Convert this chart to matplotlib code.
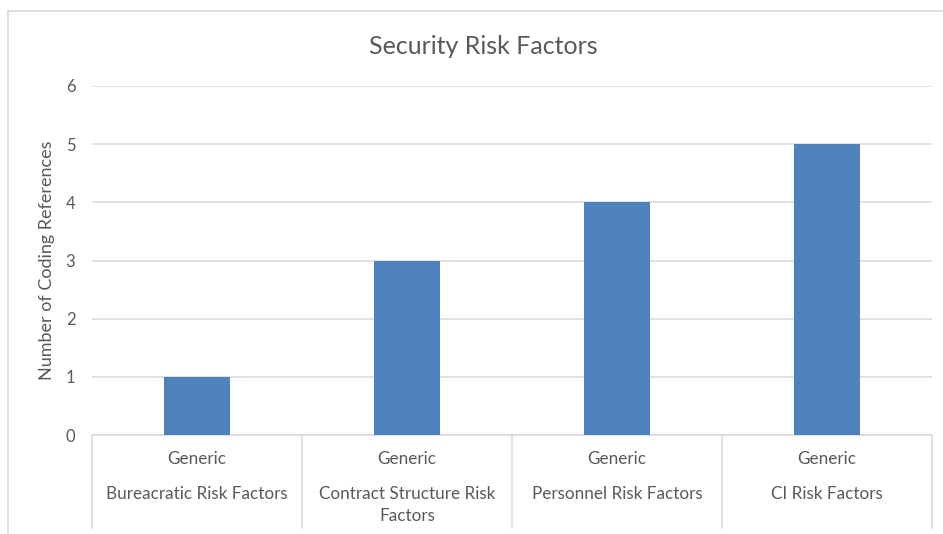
import matplotlib.pyplot as plt
from matplotlib.patches import Rectangle
from matplotlib.transforms import blended_transform_factory

# Data
groups = ["Generic", "Generic", "Generic", "Generic"]
categories = ["Bureacratic Risk Factors", "Contract Structure Risk\nFactors",
              "Personnel Risk Factors", "CI Risk Factors"]
values = [1, 3, 4, 5]

plt.rcParams['font.family'] = ['Lato', 'DejaVu Sans']
text_col = "#595959"
grid_col = "#D9D9D9"

W, H = 943, 534
fig = plt.figure(figsize=(W / 100, H / 100), dpi=100)

# outer chart frame
fig.patches.append(Rectangle((8 / W, -0.01), 1.0, 1 - 11 / H + 0.01,
                             transform=fig.transFigure, fill=False,
                             edgecolor=grid_col, linewidth=1.2))

ax = fig.add_axes([92 / W, 1 - 435 / H, (932 - 92) / W, (435 - 86) / H])
x = list(range(len(values)))
ax.bar(x, values, width=0.314, color="#4F81BD", zorder=3)

ax.set_xlim(-0.5, len(values) - 0.5)
ax.set_ylim(0, 6)
ax.set_yticks(range(0, 7))
ax.yaxis.grid(True, color=grid_col, linewidth=1.1)
ax.set_axisbelow(True)
for s in ["top", "right", "left"]:
    ax.spines[s].set_visible(False)
ax.spines["bottom"].set_color(grid_col)
ax.spines["bottom"].set_linewidth(1.1)
ax.tick_params(axis="y", length=0, pad=12, labelsize=12, labelcolor=text_col)
ax.set_xticks([])

ax.set_ylabel("Number of Coding References", fontsize=13, color=text_col, labelpad=8)

# multi-level category axis
trans = blended_transform_factory(ax.transData, ax.transAxes)
ph = 435 - 86
bottom = -(528 - 435) / ph
for b in [i - 0.5 for i in range(len(values) + 1)]:
    ax.plot([b, b], [0, bottom], transform=trans, color=grid_col,
            linewidth=1.1, clip_on=False)
for i, (g, c) in enumerate(zip(groups, categories)):
    ax.text(i, -(459 - 435) / ph, g, transform=trans, ha="center", va="center",
            fontsize=12.3, color=text_col)
    for k, line in enumerate(c.split("\n")):
        ax.text(i, -(494 + 22 * k - 435) / ph, line, transform=trans,
                ha="center", va="center", fontsize=12.3, color=text_col)

fig.text(483 / W, 1 - 46 / H, "Security Risk Factors", ha="center", va="center",
         fontsize=18, color=text_col)

fig.savefig("out.png", dpi=100)
